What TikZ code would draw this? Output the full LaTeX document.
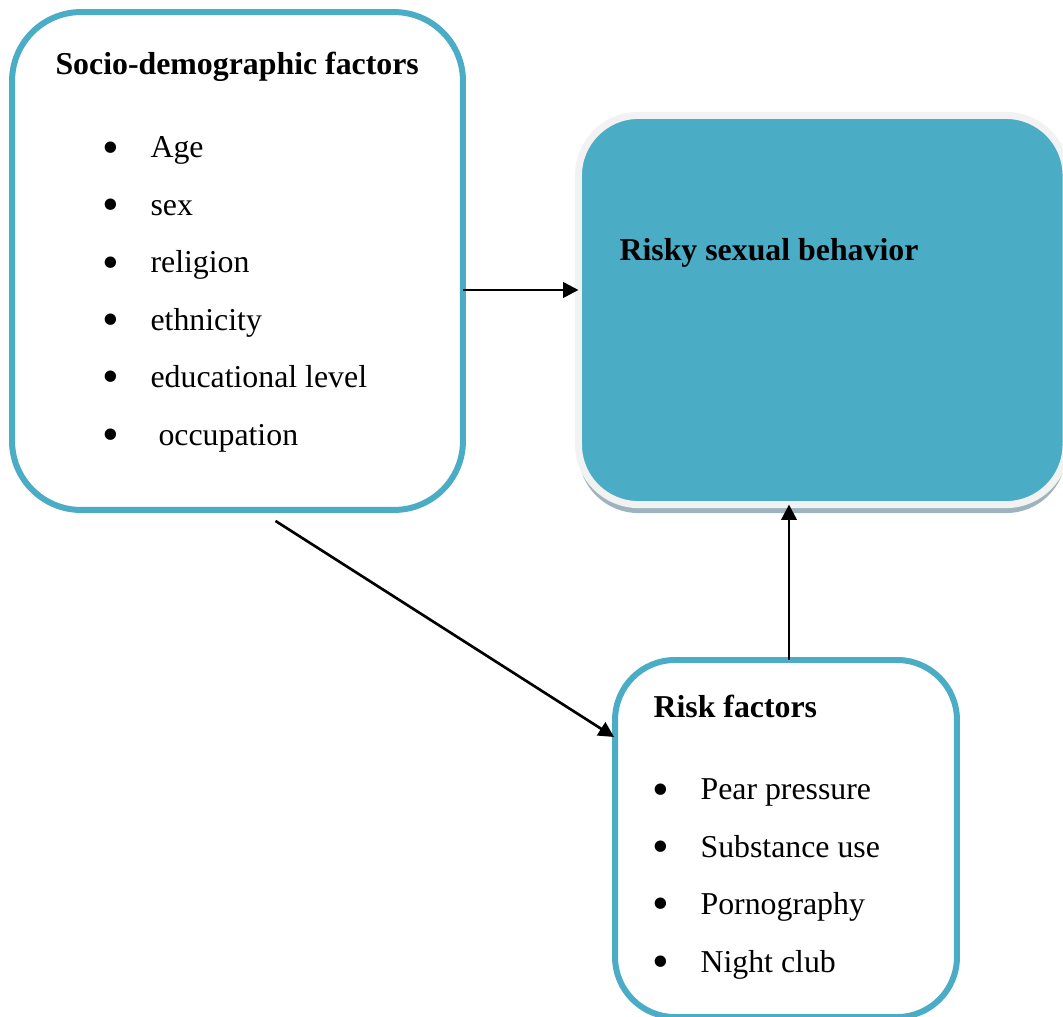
\documentclass[tikz,border=0pt]{standalone}
\usepackage{fontspec}
\setmainfont{Liberation Serif}
\usepackage{xcolor}
\usetikzlibrary{arrows.meta,positioning,shadows}
\definecolor{boxblue}{HTML}{4BACC6}
\definecolor{rimgray}{HTML}{F2F2F2}
\definecolor{shadegray}{HTML}{9DB4BE}
\newcommand{\bul}[1]{\makebox[18.1pt][l]{\raisebox{-2pt}{\scalebox{1.5}{\textbullet}}}#1}

\begin{document}
\begin{tikzpicture}[
  x=0.377pt, y=-0.377pt,
  font=\fontsize{12}{21.65}\selectfont,
  factorbox/.style={
    draw=boxblue,
    fill=white,
    line width=2.26pt,
    rounded corners=26pt,
    outer sep=0pt,
    inner sep=0pt
  },
  outcomebox/.style={
    draw=rimgray,
    fill=boxblue,
    line width=2.64pt,
    rounded corners=22.6pt,
    outer sep=0pt,
    inner sep=0pt,
    drop shadow={shadow xshift=0pt, shadow yshift=-3.2pt, fill=shadegray, opacity=1}
  },
  heading/.style={font=\fontsize{12}{14}\selectfont\bfseries, inner sep=0pt, anchor=base west},
  itemlist/.style={align=left, inner sep=0pt, anchor=base west},
  arrow/.style={-{Triangle[length=5.8pt,width=5.8pt]},line width=1pt,draw=black}
]
\useasboundingbox (0,0) rectangle (1063,1016);
\fill[white] (0,0) rectangle (1063,1016);

\node[factorbox, minimum width=170pt, minimum height=187.7pt] (socio) at (237.5,261) {};
\node[outcomebox, minimum width=183.8pt, minimum height=146.7pt] (risky) at (822.25,310) {};
\node[factorbox, rounded corners=22.6pt, minimum width=128.9pt, minimum height=134.6pt] (factors) at (786,838.5) {};

% lists are placed by the baseline of their last line
\node[heading] (sociohead) at (55,74) {Socio-demographic factors};
\node[itemlist] (sociolist) at (102,445) {\bul{Age}\\\bul{sex}\\\bul{religion}\\\bul{ethnicity}\\\bul{educational level}\\\bul{\ occupation}};
\node[heading] (riskyhead) at (619,260) {Risky sexual behavior};
\node[heading] (factorshead) at (653,717) {Risk factors};
\node[itemlist] (factorslist) at (652,972) {\bul{Pear pressure}\\\bul{Substance use}\\\bul{Pornography}\\\bul{Night club}};

\coordinate (sidestart) at ([shift={(0,29)}]socio.east);
\coordinate (upstart) at ([shift={(3,0)}]factors.north);
\draw[arrow] (sidestart) -- (sidestart -| risky.west);
\draw[arrow] ([shift={(38,11)}]socio.south) -- ([shift={(-1,-101.5)}]factors.west);
\draw[arrow] (upstart) -- (upstart |- risky.south);
\end{tikzpicture}
\end{document}
